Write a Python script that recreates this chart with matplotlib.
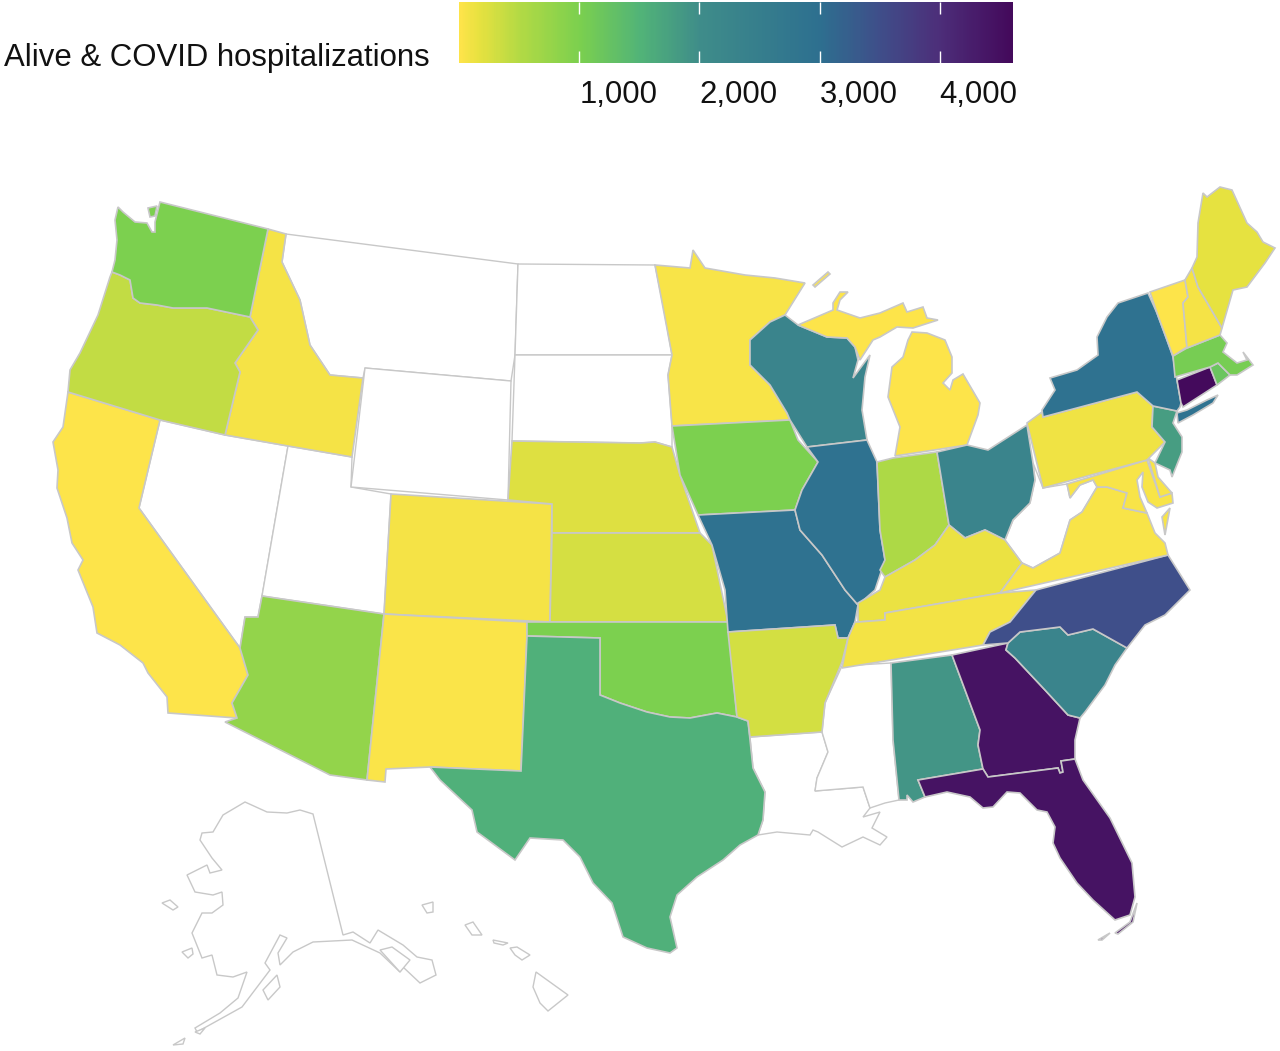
#Choropleth of hospitalizations by state
import numpy as np
import matplotlib
matplotlib.use('Agg')
import matplotlib.pyplot as plt
from matplotlib.colors import Normalize, LinearSegmentedColormap

plt.rcParams['font.family'] = ['Liberation Sans', 'DejaVu Sans']

#values, states without data are left out
states = ['CA','AZ','ID','OR','WA','WA_isl','CO','NM','NE','KS','OK','TX','MN','IA','MO','AR',
          'WI','IL','AL','MI','MI_isle','MI_up','IN','OH','KY','TN','GA','FL','FL_keys','FL_keys2','SC','NC','VA','VA_shore',
          'MD','DE','PA','NJ','NY','LI','CT','RI','MA','VT','NH','ME']
values = [5,780,60,400,1000,1000,60,30,220,280,1000,1550,50,1000,2950,300,
          2300,2950,1900,5,5,5,550,2300,130,80,4450,4450,4450,4450,2300,3500,50,50,
          50,50,100,1800,2950,2950,4600,1200,1050,10,60,180]
blank_states = ['NV','UT','MT','WY','ND','SD','LA','MS','WV','AK','AK_kodiak','AK_nunivak','AK_lawrence','AK_alex',
                'AK_aleut','AK_matt','HI_kauai','HI_oahu','HI_molokai','HI_maui','HI_big']

legend_title = 'Alive & COVID hospitalizations'
legend_ticks = [1000, 2000, 3000, 4000]
legend_labels = ['1,000', '2,000', '3,000', '4,000']
vmin, vmax = 0, 4610

#colours of the legend bar
bar_values = [0, 150, 500, 1000, 1500, 2000, 3000, 3500, 4000, 4610]
bar_colors = ['#fde44a','#e8e240','#b2da45','#7bd04f','#52b478','#3f8d8a','#2e7090','#3f4f8a','#4d2f7a','#440a5c']

#state outlines, in picture coordinates
outlines = {
'WA': [(118,207),(115,220),(117,240),(115,260),(112,272),(120,275),(130,280),(133,298),(140,303),(157,305),(173,308),(207,308),(250,317),(268,229),(160,202),(155,222),(155,232),(152,232),(147,223),(135,222),(123,212)],
'WA_isl': [(148,208),(157,206),(155,216),(150,217)],
'OR': [(110,277),(112,272),(120,275),(130,280),(133,298),(140,303),(157,305),(173,308),(207,308),(250,317),(258,330),(235,363),(240,372),(225,435),(160,420),(68,392),(70,370),(80,353),(98,315)],
'ID': [(268,229),(286,234),(282,262),(300,300),(310,345),(330,375),(363,378),(352,457),(288,446),(225,435),(240,372),(235,363),(258,330),(250,317)],
'MT': [(286,234),(518,264),(515,355),(511,381),(365,368),(363,378),(330,375),(310,345),(300,300),(282,262)],
'WY': [(365,368),(511,381),(508,500),(351,487)],
'ND': [(518,264),(655,265),(664,310),(672,355),(515,355)],
'SD': [(515,355),(672,355),(668,375),(672,425),(672,447),(655,442),(640,443),(512,441)],
'NE': [(512,441),(640,443),(655,442),(672,447),(680,475),(700,533),(552,533),(552,504),(508,500)],
'CO': [(391,494),(552,504),(550,622),(384,614)],
'KS': [(552,533),(700,533),(712,545),(728,622),(550,622)],
'OK': [(527,622),(728,622),(737,717),(717,713),(690,718),(670,717),(647,712),(620,703),(600,695),(600,638),(527,636)],
'TX': [(527,636),(600,638),(600,695),(620,703),(647,712),(670,717),(690,718),(717,713),(737,717),(748,721),(753,768),(765,792),(763,820),(758,835),(740,845),(723,860),(697,877),(677,895),(670,917),(677,948),(670,953),(647,948),(623,937),(612,903),(593,883),(580,857),(563,840),(530,838),(515,860),(477,832),(472,810),(440,780),(430,767),(521,771)],
'NM': [(384,614),(527,622),(527,636),(521,771),(430,767),(386,769),(385,782),(367,780)],
'AZ': [(262,596),(384,614),(367,780),(330,775),(225,722),(237,718),(232,703),(248,675),(240,648),(245,617),(258,617)],
'UT': [(288,446),(352,457),(351,487),(391,494),(384,614),(262,596)],
'NV': [(160,420),(225,435),(288,446),(262,596),(258,617),(245,617),(240,648),(139,508)],
'CA': [(68,392),(160,420),(139,508),(240,648),(248,675),(232,703),(237,718),(168,713),(167,697),(148,673),(143,663),(120,645),(97,633),(93,607),(78,570),(83,560),(72,543),(67,518),(57,488),(58,470),(53,442),(63,427)],
'MN': [(655,265),(690,268),(693,250),(705,268),(745,275),(775,278),(805,283),(785,315),(770,322),(750,340),(750,365),(770,385),(787,413),(790,420),(672,426),(668,375),(672,355)],
'IA': [(672,426),(790,420),(798,440),(818,462),(802,490),(795,510),(698,515),(680,475)],
'MO': [(698,515),(795,510),(800,530),(822,555),(845,590),(858,605),(855,622),(848,638),(838,638),(835,625),(728,632),(725,590),(712,545)],
'AR': [(728,632),(835,625),(838,638),(848,638),(842,662),(825,703),(822,732),(750,737),(748,721),(737,717)],
'LA': [(750,737),(822,732),(828,752),(817,778),(815,791),(863,787),(870,808),(863,817),(880,812),(872,828),(887,837),(880,845),(863,837),(842,847),(818,832),(813,830),(810,835),(777,832),(758,835),(763,820),(765,792),(753,768)],
'MS': [(842,666),(891,663),(893,740),(899,800),(885,803),(870,808),(863,787),(815,791),(817,778),(828,752),(822,732),(825,703)],
'AL': [(891,663),(952,655),(980,730),(978,745),(983,769),(918,780),(925,797),(913,802),(907,795),(907,800),(899,800),(893,740)],
'GA': [(952,655),(1008,643),(1006,650),(1015,658),(1045,690),(1068,715),(1080,718),(1075,740),(1075,759),(1061,761),(1063,772),(1060,773),(1058,768),(988,777),(983,769),(978,745),(980,730)],
'FL': [(918,780),(983,769),(988,777),(1058,768),(1060,773),(1063,772),(1061,761),(1075,759),(1083,780),(1110,818),(1132,863),(1135,897),(1130,915),(1115,920),(1093,900),(1077,883),(1060,858),(1053,843),(1055,827),(1047,812),(1037,810),(1020,793),(1007,792),(993,807),(983,808),(970,797),(947,792),(925,797)],
'FL_keys': [(1098,940),(1110,933),(1102,940)],
'FL_keys2': [(1115,933),(1130,922),(1137,903),(1133,922),(1118,934)],
'SC': [(1008,643),(1020,632),(1060,627),(1068,635),(1093,629),(1127,648),(1115,665),(1105,685),(1085,712),(1080,718),(1068,715),(1045,690),(1015,658),(1006,650)],
'NC': [(983,645),(990,632),(1010,622),(1036,590),(1168,555),(1190,590),(1165,615),(1145,625),(1127,648),(1093,629),(1068,635),(1060,627),(1020,632),(1008,643)],
'TN': [(858,622),(885,620),(885,613),(1000,593),(1036,590),(1010,622),(990,632),(983,645),(842,668),(848,638),(855,622)],
'KY': [(858,622),(858,603),(880,590),(885,577),(915,560),(935,545),(949,525),(965,538),(985,530),(1005,540),(1022,563),(1000,593),(885,613),(885,620)],
'VA': [(1000,593),(1022,563),(1033,568),(1060,553),(1070,520),(1082,512),(1097,487),(1107,487),(1127,493),(1123,508),(1147,513),(1155,533),(1165,543),(1168,555)],
'VA_shore': [(1162,517),(1170,508),(1165,535)],
'WV': [(1005,540),(1013,520),(1030,503),(1035,480),(1033,463),(1043,488),(1067,484),(1070,498),(1080,485),(1093,480),(1097,487),(1082,512),(1070,520),(1060,553),(1033,568),(1022,563)],
'OH': [(937,452),(967,445),(988,450),(1027,425),(1033,463),(1035,480),(1030,503),(1013,520),(1005,540),(985,530),(965,538),(949,525)],
'IN': [(877,462),(893,458),(937,452),(949,525),(935,545),(915,560),(885,577),(880,570),(885,560),(880,530)],
'IL': [(807,447),(867,440),(877,462),(880,530),(885,560),(875,590),(858,605),(845,590),(822,555),(800,530),(795,510),(802,490),(818,462)],
'WI': [(750,340),(770,322),(785,315),(798,325),(827,337),(847,338),(855,347),(858,360),(853,378),(870,355),(865,377),(862,410),(867,440),(807,447),(790,420),(787,413),(770,385),(750,365)],
'MI_up': [(798,325),(833,310),(833,303),(840,292),(848,292),(840,300),(837,310),(860,318),(880,313),(903,303),(907,312),(923,307),(927,318),(938,320),(913,328),(897,327),(880,337),(873,340),(860,360),(855,347),(847,338),(827,337)],
'MI_isle': [(813,285),(828,272),(830,274),(815,287)],
'MI': [(912,332),(927,333),(945,340),(952,357),(952,373),(943,383),(950,390),(953,380),(963,374),(980,403),(978,415),(967,445),(895,456),(900,427),(888,397),(892,367),(903,357),(908,340)],
'PA': [(1027,423),(1042,412),(1043,417),(1137,392),(1153,406),(1152,427),(1165,442),(1147,460),(1043,488)],
'NY': [(1043,417),(1042,410),(1055,390),(1050,378),(1077,370),(1098,355),(1097,337),(1107,317),(1118,303),(1148,293),(1157,313),(1167,340),(1173,357),(1177,380),(1181,403),(1180,407),(1177,411),(1153,406),(1137,392)],
'LI': [(1177,413),(1187,410),(1207,400),(1218,395),(1213,403),(1193,415),(1178,423)],
'NJ': [(1153,406),(1177,411),(1173,423),(1182,437),(1182,452),(1172,477),(1170,470),(1155,463),(1165,442),(1152,427)],
'DE': [(1148,458),(1155,463),(1158,477),(1172,493),(1160,497)],
'MD': [(1067,484),(1147,460),(1160,497),(1172,493),(1173,503),(1157,508),(1148,502),(1142,487),(1143,472),(1137,480),(1140,497),(1147,513),(1123,508),(1127,493),(1107,487),(1097,487),(1093,480),(1080,485),(1070,498)],
'VT': [(1150,292),(1185,280),(1188,297),(1183,303),(1187,347),(1173,356),(1167,340),(1157,313)],
'NH': [(1185,280),(1192,268),(1198,287),(1222,328),(1220,335),(1187,348),(1183,303),(1188,297)],
'ME': [(1192,268),(1197,257),(1198,223),(1203,193),(1207,197),(1220,187),(1232,190),(1247,223),(1257,232),(1263,242),(1275,248),(1265,263),(1247,287),(1233,290),(1222,328),(1198,287)],
'MA': [(1173,356),(1187,348),(1220,335),(1227,343),(1223,352),(1237,363),(1247,360),(1243,352),(1253,365),(1237,375),(1230,375),(1218,363),(1210,367),(1175,377)],
'RI': [(1210,367),(1218,363),(1230,375),(1217,385)],
'CT': [(1177,380),(1210,367),(1217,385),(1183,407),(1181,403)],
'AK': [(245,802),(267,812),(287,813),(300,810),(313,814),(343,935),(353,932),(370,943),(378,930),(403,945),(417,957),(432,960),(436,975),(420,983),(403,967),(400,972),(380,953),(352,940),(313,942),(293,952),(280,965),(278,953),(287,938),(280,935),(265,963),(270,970),(242,1007),(197,1032),(195,1028),(220,1013),(238,998),(247,972),(233,977),(217,975),(212,955),(202,958),(192,933),(202,913),(212,913),(223,905),(222,892),(213,895),(195,892),(187,875),(207,865),(210,873),(222,870),(212,858),(200,840),(202,833),(213,832),(223,815)],
'AK_alex': [(380,950),(392,947),(410,960),(400,972)],
'AK_kodiak': [(263,990),(277,975),(280,987),(268,1000)],
'AK_nunivak': [(182,952),(192,948),(193,954),(188,958)],
'AK_lawrence': [(170,900),(178,907),(173,910),(162,903)],
'AK_aleut': [(173,1045),(185,1038),(183,1044)],
'AK_matt': [(195,1032),(205,1028),(200,1034)],
'HI_kauai': [(422,905),(433,902),(433,912),(427,913)],
'HI_oahu': [(465,925),(473,922),(482,935),(472,935)],
'HI_molokai': [(493,940),(508,943),(503,945),(494,943)],
'HI_maui': [(510,948),(517,947),(530,955),(522,960),(515,955)],
'HI_big': [(536,972),(568,995),(548,1011),(540,1003),(533,987)],
}

fig = plt.figure(figsize=(12.8, 10.51), dpi=100)

#map fills the whole picture
ax = fig.add_axes([0, 0, 1, 1])
ax.set_xlim(0, 1280)
ax.set_ylim(1051, 0)
ax.axis('off')

norm = Normalize(vmin, vmax)
cmap = LinearSegmentedColormap.from_list('bar', [(v/vmax, c) for v, c in zip(bar_values, bar_colors)])
edge = '#c8c8c8'

for s in blank_states:
    ax.fill(*zip(*outlines[s]), facecolor='white', edgecolor=edge, linewidth=1.0)
for s, v in zip(states, values):
    ax.fill(*zip(*outlines[s]), facecolor=cmap(norm(v)), edgecolor=edge, linewidth=1.2)

#legend bar
W, H = 1280, 1051
cax = fig.add_axes([459/W, 1-63/H, (1013-459)/W, 61/H])
cax.imshow(np.linspace(vmin, vmax, 300).reshape(1, -1), cmap=cmap, norm=norm,
           extent=[vmin, vmax, 0, 1], aspect='auto')
cax.vlines(legend_ticks, 0.8, 1, color='white', linewidth=1)
cax.vlines(legend_ticks, 0, 0.2, color='white', linewidth=1)
cax.set_yticks([])
cax.set_xticks(legend_ticks)
cax.set_xticklabels(legend_labels, ha='left', fontsize=22.4, color='#111111')
cax.tick_params(axis='x', length=0, pad=12.5)
for sp in cax.spines.values():
    sp.set_visible(False)

ax.text(4, 58, legend_title, fontsize=22.4, va='center', ha='left', color='#111111')

plt.savefig('out.png', dpi=100)
